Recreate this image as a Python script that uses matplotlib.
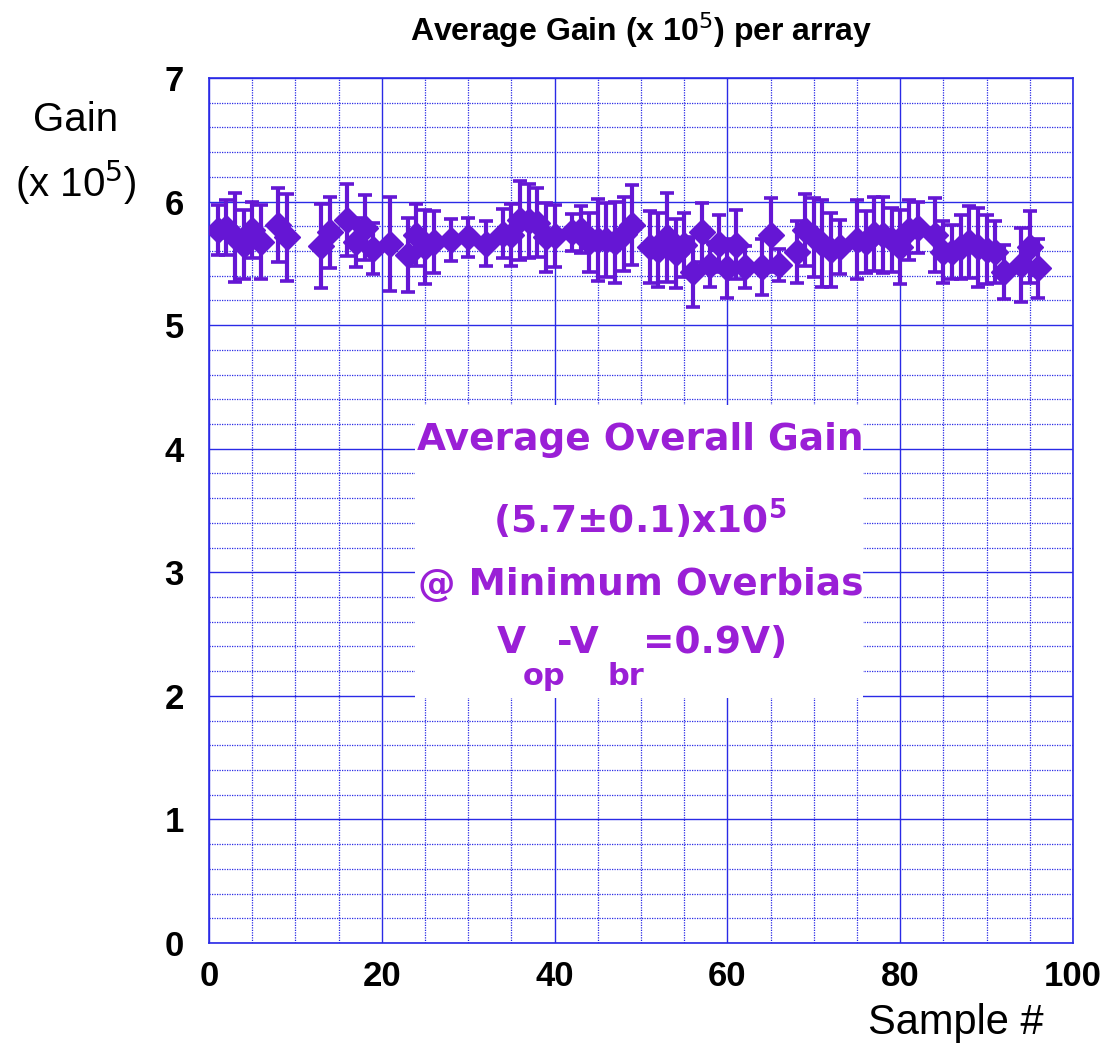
import matplotlib
matplotlib.use("Agg")
import matplotlib.pyplot as plt
from matplotlib.patches import Rectangle
from matplotlib.ticker import MultipleLocator

# sample number, average gain (x 1e5) and error
samples = [1, 2, 3, 4, 5, 6, 8, 9, 13, 14, 16, 17, 18, 19, 21, 23, 24, 25, 26, 28,
           30, 32, 34, 35, 36, 37, 38, 39, 40, 42, 43, 44, 45, 46, 47, 48, 49, 51, 52, 53,
           54, 55, 56, 57, 58, 59, 60, 61, 62, 64, 65, 66, 68, 69, 70, 71, 72, 73, 75, 76,
           77, 78, 79, 80, 81, 82, 84, 85, 86, 87, 88, 89, 90, 91, 92, 94, 95, 96]
gain = [5.77, 5.79, 5.71, 5.65, 5.77, 5.67, 5.81, 5.71, 5.64, 5.75, 5.85, 5.67, 5.79, 5.62,
        5.66, 5.57, 5.73, 5.63, 5.67, 5.69, 5.71, 5.66, 5.74, 5.73, 5.85, 5.84, 5.83, 5.71,
        5.72, 5.75, 5.77, 5.67, 5.69, 5.69, 5.67, 5.74, 5.81, 5.63, 5.61, 5.71, 5.58, 5.65,
        5.43, 5.75, 5.49, 5.66, 5.46, 5.65, 5.47, 5.47, 5.73, 5.49, 5.59, 5.77, 5.71, 5.66,
        5.61, 5.63, 5.69, 5.67, 5.74, 5.73, 5.69, 5.63, 5.77, 5.79, 5.73, 5.59, 5.59, 5.63,
        5.67, 5.63, 5.61, 5.59, 5.43, 5.49, 5.63, 5.46]
err = [0.20, 0.22, 0.36, 0.28, 0.23, 0.30, 0.30, 0.35, 0.34, 0.29, 0.29, 0.20, 0.26, 0.21,
       0.38, 0.30, 0.25, 0.30, 0.25, 0.17, 0.16, 0.18, 0.20, 0.25, 0.32, 0.30, 0.28, 0.28,
       0.25, 0.15, 0.19, 0.24, 0.33, 0.30, 0.33, 0.30, 0.32, 0.29, 0.30, 0.36, 0.28, 0.26,
       0.28, 0.24, 0.18, 0.23, 0.24, 0.28, 0.17, 0.23, 0.30, 0.13, 0.25, 0.29, 0.32, 0.35,
       0.30, 0.22, 0.32, 0.25, 0.30, 0.31, 0.26, 0.30, 0.24, 0.21, 0.30, 0.25, 0.22, 0.26,
       0.29, 0.32, 0.28, 0.25, 0.22, 0.30, 0.29, 0.24]

mark_col = "#6516d4"
text_col = "#9a1fd6"
grid_col = "#2a2ae6"

fig = plt.figure(figsize=(11.02, 10.51), dpi=100)
ax = fig.add_axes([0.1897, 0.1028, 0.9737 - 0.1897, 0.9258 - 0.1028])

ax.set_xlim(0, 100)
ax.set_ylim(0, 7)
ax.xaxis.set_major_locator(MultipleLocator(20))
ax.xaxis.set_minor_locator(MultipleLocator(5))
ax.yaxis.set_major_locator(MultipleLocator(1))
ax.yaxis.set_minor_locator(MultipleLocator(0.2))
ax.grid(which="major", color=grid_col, lw=1.0, ls="-")
ax.grid(which="minor", color=grid_col, lw=0.9, ls=(0, (1, 1)))
ax.set_axisbelow(True)
for s in ax.spines.values():
    s.set_color(grid_col)
    s.set_linewidth(1.2)
ax.tick_params(which="both", length=0, labelsize=25)
for lab in ax.get_xticklabels() + ax.get_yticklabels():
    lab.set_fontweight("bold")
    lab.set_family("Liberation Sans")
ax.tick_params(axis="x", pad=12)
ax.tick_params(axis="y", pad=18)

# white box behind the annotation
ax.add_patch(Rectangle((0.238, 1.98 / 7), 0.519, (4.35 - 1.98) / 7, transform=ax.transAxes,
                       facecolor="white", edgecolor="none", zorder=1.5))

ax.errorbar(samples, gain, yerr=err, fmt="D", color=mark_col, ms=13.5, elinewidth=3,
            capsize=5, capthick=2.6, zorder=3)

fig.text(0.5817, 0.971, r"Average Gain (x 10$^5$) per array", ha="center", va="center",
         fontsize=23, fontweight="bold", family="Liberation Sans")
fig.text(0.069, 0.886, "Gain", ha="center", va="center", fontsize=29, family="Liberation Sans")
fig.text(0.069, 0.826, r"(x 10$^5$)", ha="center", va="center", fontsize=29,
         family="Liberation Sans")
fig.text(0.947, 0.027, "Sample #", ha="right", va="center", fontsize=30,
         family="Liberation Sans")

tk = dict(color=text_col, fontsize=27, fontweight="bold", family="DejaVu Sans", zorder=4)
fig.text(0.581, 0.581, "Average Overall Gain", ha="center", va="center", **tk)
fig.text(0.581, 0.507, r"(5.7±0.1)x10$^\mathbf{5}$", ha="center", va="center", **tk)
fig.text(0.581, 0.443, "@ Minimum Overbias", ha="center", va="center", **tk)
sub = dict(tk, fontsize=22)
fig.text(0.451, 0.388, "V", ha="left", va="center", **tk)
fig.text(0.4746, 0.356, "op", ha="left", va="center", **sub)
fig.text(0.5054, 0.388, "-V", ha="left", va="center", **tk)
fig.text(0.5517, 0.356, "br", ha="left", va="center", **sub)
fig.text(0.5835, 0.388, "=0.9V)", ha="left", va="center", **tk)

fig.savefig("out.png", dpi=100)
